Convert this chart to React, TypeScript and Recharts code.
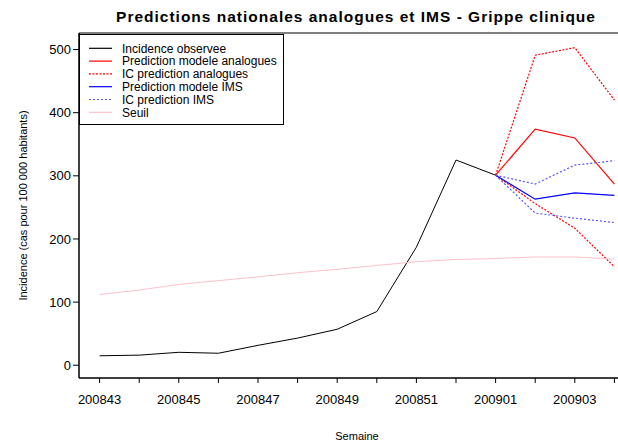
import React from 'react';
import { LineChart, Line, XAxis, YAxis, ReferenceArea } from 'recharts';

const weeks = ['200843','200844','200845','200846','200847','200848','200849','200850','200851','200852','200901','200902','200903','200904'];
const observed = [15, 16, 20.5, 19, 31.5, 43, 57, 85, 187, 325, 301, null, null, null];
const predAnalogues = [null, null, null, null, null, null, null, null, null, null, 301, 374, 360, 287];
const icAnaloguesHigh = [null, null, null, null, null, null, null, null, null, null, 301, 491, 503, 420];
const icAnaloguesLow = [null, null, null, null, null, null, null, null, null, null, 301, 256, 217, 156];
const predIMS = [null, null, null, null, null, null, null, null, null, null, 301, 263, 273, 269];
const icIMSHigh = [null, null, null, null, null, null, null, null, null, null, 301, 287, 317, 324];
const icIMSLow = [null, null, null, null, null, null, null, null, null, null, 301, 241, 233, 226];
const seuil = [112, 119, 128, 134, 140, 146.5, 152, 158, 164, 167.5, 169, 171.5, 171.5, 168];
const yTicks = [0, 100, 200, 300, 400, 500];
const legendItems = [
  { label: 'Incidence observee', color: '#000000', dash: undefined },
  { label: 'Prediction modele analogues', color: '#ff0000', dash: undefined },
  { label: 'IC prediction analogues', color: '#ff0000', dash: '2 1.5' },
  { label: 'Prediction modele IMS', color: '#0000ff', dash: undefined },
  { label: 'IC prediction IMS', color: '#5555ff', dash: '2 2' },
  { label: 'Seuil', color: '#ffc0cb', dash: undefined },
];

const data = weeks.map((w, i) => ({
  x: i,
  week: w,
  observed: observed[i],
  predAnalogues: predAnalogues[i],
  icAnaloguesHigh: icAnaloguesHigh[i],
  icAnaloguesLow: icAnaloguesLow[i],
  predIMS: predIMS[i],
  icIMSHigh: icIMSHigh[i],
  icIMSLow: icIMSLow[i],
  seuil: seuil[i],
}));

const FONT = '"Liberation Sans", Arial, Helvetica, sans-serif';
const X_DOMAIN: [number, number] = [-0.52, 13.52];
const Y_DOMAIN: [number, number] = [-20.2, 526.2];

export default function App() {
  return (
    <div style={{ position: 'absolute', left: 0, top: 0, width: 618, height: 441, overflow: 'hidden', background: '#fff', fontFamily: FONT }}>
      <LineChart width={660} height={441} data={data} margin={{ top: 33, right: 25, left: 0, bottom: 33 }}>
        <ReferenceArea x1={X_DOMAIN[0]} x2={X_DOMAIN[1]} y1={Y_DOMAIN[0]} y2={Y_DOMAIN[1]} stroke="#000" strokeWidth={1} fill="none" fillOpacity={0} ifOverflow="visible" />
        <XAxis
          dataKey="x"
          type="number"
          domain={X_DOMAIN}
          allowDataOverflow
          ticks={weeks.map((_, i) => i)}
          interval={0}
          tickFormatter={(v: number) => (v % 2 === 0 ? weeks[v] : '')}
          height={30}
          tickSize={5}
          tickMargin={12}
          axisLine={{ stroke: '#000' }}
          tickLine={{ stroke: '#000' }}
          tick={{ fill: '#000', fontSize: 13, fontFamily: FONT }}
        />
        <YAxis
          type="number"
          domain={Y_DOMAIN}
          allowDataOverflow
          ticks={yTicks}
          interval={0}
          width={79}
          tickSize={6}
          tickMargin={2}
          axisLine={{ stroke: '#000' }}
          tickLine={{ stroke: '#000' }}
          tick={{ fill: '#000', fontSize: 13, fontFamily: FONT }}
        />
        <Line dataKey="observed" stroke="#000000" strokeWidth={1} dot={false} isAnimationActive={false} type="linear" />
        <Line dataKey="predAnalogues" stroke="#ff0000" strokeWidth={1.2} dot={false} isAnimationActive={false} type="linear" />
        <Line dataKey="icAnaloguesHigh" stroke="#ff0000" strokeWidth={1.2} strokeDasharray="2 1.5" dot={false} isAnimationActive={false} type="linear" />
        <Line dataKey="icAnaloguesLow" stroke="#ff0000" strokeWidth={1.2} strokeDasharray="2 1.5" dot={false} isAnimationActive={false} type="linear" />
        <Line dataKey="predIMS" stroke="#0000ff" strokeWidth={1.2} dot={false} isAnimationActive={false} type="linear" />
        <Line dataKey="icIMSHigh" stroke="#5555ff" strokeWidth={1.2} strokeDasharray="2 2" dot={false} isAnimationActive={false} type="linear" />
        <Line dataKey="icIMSLow" stroke="#5555ff" strokeWidth={1.2} strokeDasharray="2 2" dot={false} isAnimationActive={false} type="linear" />
        <Line dataKey="seuil" stroke="#ffc0cb" strokeWidth={1} dot={false} isAnimationActive={false} type="linear" />
      </LineChart>
      <svg width={618} height={441} style={{ position: 'absolute', left: 0, top: 0, pointerEvents: 'none' }} fontFamily={FONT}>
        <text x={356} y={22} textAnchor="middle" fontWeight="bold" fontSize={15.5} letterSpacing={1} fill="#000">
          Predictions nationales analogues et IMS - Grippe clinique
        </text>
        <text transform="translate(27,205.5) rotate(-90)" textAnchor="middle" fontSize={11} fill="#000">
          Incidence (cas pour 100 000 habitants)
        </text>
        <text x={357} y={440} textAnchor="middle" fontSize={11} fill="#000">
          Semaine
        </text>
        <rect x={79.5} y={34.5} width={204} height={90} fill="#fff" stroke="#000" strokeWidth={1} />
        {legendItems.map((it, i) => {
          const cy = 48.3 + i * 12.8;
          return (
            <g key={it.label}>
              <line x1={89} x2={112} y1={cy} y2={cy} stroke={it.color} strokeWidth={1.2} strokeDasharray={it.dash} />
              <text x={122} y={cy + 4.2} fontSize={12} fill="#000">
                {it.label}
              </text>
            </g>
          );
        })}
      </svg>
    </div>
  );
}
